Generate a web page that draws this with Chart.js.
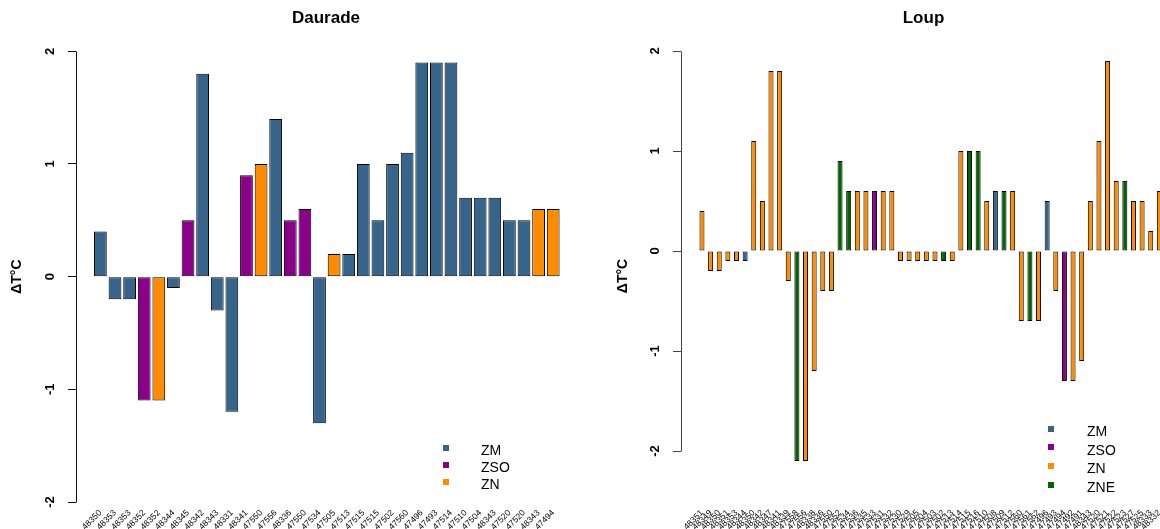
<!DOCTYPE html>
<html><head><meta charset="utf-8">
<script src="https://cdn.jsdelivr.net/npm/chart.js@4.4.1/dist/chart.umd.min.js"></script>
<style>
html,body{margin:0;padding:0;width:1160px;height:529px;overflow:hidden;background:#fff;font-family:'Liberation Sans',Arial,sans-serif;}
#wl{position:absolute;left:0;top:0;width:580px;height:529px;}
#wr{position:absolute;left:600px;top:0;width:570px;height:529px;}
.lt{position:absolute;font-size:14px;line-height:14px;color:#000;white-space:nowrap;}
.sq{position:absolute;width:6px;height:6px;}
</style></head><body>
<div id="wl"><canvas id="cl" width="580" height="529"></canvas></div>
<div id="wr"><canvas id="cr" width="570" height="529"></canvas></div>
<div id="legends"></div>
<script>
// ---- data ----
const zoneColors = { ZM: '#36648B', ZSO: '#8B008B', ZN: '#FF8C00', ZNE: '#006400' };
const yTicks = [-2, -1, 0, 1, 2];

const leftTitle = 'Daurade';
const leftLabels = ['48350','48353','48353','48352','48352','48344','48345','48342','48343','48331','48341','47550','47556','48336','47550','47534','47505','47513','47515','47515','47502','47560','47496','47493','47514','47510','47504','48343','47520','47520','48343','47494'];
const leftValues = [0.4,-0.2,-0.2,-1.1,-1.1,-0.1,0.5,1.8,-0.3,-1.2,0.9,1.0,1.4,0.5,0.6,-1.3,0.2,0.2,1.0,0.5,1.0,1.1,1.9,1.9,1.9,0.7,0.7,0.7,0.5,0.5,0.6,0.6];
const leftZones = ['ZM','ZM','ZM','ZSO','ZN','ZM','ZSO','ZM','ZM','ZM','ZSO','ZN','ZM','ZSO','ZSO','ZM','ZN','ZM','ZM','ZM','ZM','ZM','ZM','ZM','ZM','ZM','ZM','ZM','ZM','ZM','ZN','ZN'];
const leftLegend = ['ZM','ZSO','ZN'];

const rightTitle = 'Loup';
const rightLabels = ['48351','48349','48350','48351','48353','48344','48350','48342','48347','48341','48339','47558','47556','48338','48336','47550','47552','47534','47536','47535','47533','47531','47532','47530','47529','47505','47504','47503','47502','47513','47514','47515','47516','47510','47508','47509','47512','47560','47561','47562','47496','47493','47494','47492','47491','48343','47520','47521','47522','47523','47527','47525','48333','48332'];
const rightValues = [0.4,-0.2,-0.2,-0.1,-0.1,-0.1,1.1,0.5,1.8,1.8,-0.3,-2.1,-2.1,-1.2,-0.4,-0.4,0.9,0.6,0.6,0.6,0.6,0.6,0.6,-0.1,-0.1,-0.1,-0.1,-0.1,-0.1,-0.1,1.0,1.0,1.0,0.5,0.6,0.6,0.6,-0.7,-0.7,-0.7,0.5,-0.4,-1.3,-1.3,-1.1,0.5,1.1,1.9,0.7,0.7,0.5,0.5,0.2,0.6];
const rightZones = ['ZN','ZN','ZN','ZN','ZN','ZM','ZN','ZN','ZN','ZN','ZN','ZNE','ZN','ZN','ZN','ZN','ZNE','ZNE','ZN','ZN','ZSO','ZN','ZN','ZN','ZN','ZN','ZN','ZN','ZNE','ZN','ZN','ZNE','ZNE','ZN','ZM','ZNE','ZN','ZN','ZNE','ZN','ZM','ZN','ZSO','ZN','ZN','ZN','ZN','ZN','ZN','ZNE','ZN','ZN','ZN','ZN'];
const rightLegend = ['ZM','ZSO','ZN','ZNE'];
const yTitle = 'ΔT°C';

Chart.defaults.font.family = "'Liberation Sans', Arial, sans-serif";
Chart.defaults.color = '#000';

const axisLine = {
  id: 'axisLine',
  afterDraw(chart, args, opts) {
    const ys = chart.scales.y, ctx = chart.ctx;
    const x = Math.round(chart.chartArea.left) + 0.5;
    ctx.save();
    ctx.strokeStyle = opts.color; ctx.lineWidth = 1;
    ctx.beginPath();
    ctx.moveTo(x, Math.round(ys.getPixelForValue(yTicks[yTicks.length-1])) + 0.5);
    ctx.lineTo(x, Math.round(ys.getPixelForValue(yTicks[0])) + 0.5);
    ctx.stroke();
    ctx.restore();
  }
};

function makeChart(id, cfg) {
  const data = cfg.values.map((v, i) => ({ x: i, y: v }));
  return new Chart(document.getElementById(id), {
    type: 'bar',
    data: { datasets: [{
      data,
      backgroundColor: cfg.zones.map(z => zoneColors[z]),
      borderColor: '#000',
      borderWidth: 1,
      borderSkipped: false,
      categoryPercentage: 1,
      barPercentage: cfg.barPct
    }]},
    plugins: [axisLine],
    options: {
      responsive: false,
      animation: false,
      events: [],
      layout: { padding: { left: 0, right: 4, top: 0, bottom: 0 } },
      plugins: {
        legend: { display: false },
        tooltip: { enabled: false },
        axisLine: { color: cfg.axisColor },
        title: {
          display: true, text: cfg.title, fullSize: false,
          font: { size: 17, weight: 'bold' }, color: '#000',
          padding: { top: 7.8, bottom: cfg.titleBottom }
        }
      },
      scales: {
        x: {
          type: 'linear', min: cfg.xmin, max: cfg.xmax, offset: false,
          afterBuildTicks: s => { s.ticks = cfg.labels.map((_, i) => ({ value: i })); },
          afterFit: s => { s.height = cfg.xHeight; },
          ticks: {
            autoSkip: false, minRotation: 45, maxRotation: 45, padding: cfg.xPad,
            font: { size: 8.5 }, color: '#000',
            callback: (v, i) => cfg.labels[i]
          },
          grid: { display: false }, border: { display: false }
        },
        y: {
          min: cfg.ymin, max: cfg.ymax,
          afterBuildTicks: s => { s.ticks = yTicks.map(v => ({ value: v })); },
          afterFit: s => { s.width = cfg.yWidth; },
          ticks: {
            minRotation: 90, maxRotation: 90, crossAlign: 'center', padding: 12.2,
            font: { size: 13, weight: 'bold' }, color: '#000',
            callback: v => String(v)
          },
          grid: { display: true, drawOnChartArea: false, drawTicks: true, tickLength: 8, color: cfg.axisColor, lineWidth: 1 },
          border: { display: false },
          title: {
            display: true, text: yTitle, font: { size: 14, weight: 'bold' }, color: '#000',
            padding: { top: cfg.yTitlePad, bottom: 0 }
          }
        }
      }
    }
  });
}

makeChart('cl', {
  title: leftTitle, labels: leftLabels, values: leftValues, zones: leftZones,
  barPct: 0.873, axisColor: '#111', titleBottom: 23.1,
  xmin: -1.67, xmax: 32.56, xHeight: 27, xPad: -2,
  ymin: -2, ymax: 2, yWidth: 76, yTitlePad: 9
});
makeChart('cr', {
  title: rightTitle, labels: rightLabels, values: rightValues, zones: rightZones,
  barPct: 0.58, axisColor: '#444', titleBottom: 22.8,
  xmin: -2.43, xmax: 53.77, xHeight: 28, xPad: -1,
  ymin: -2.5, ymax: 2, yWidth: 81, yTitlePad: 15.2
});

// legends (HTML text)
function legend(names, sqLeft, txtLeft, rows) {
  const host = document.getElementById('legends');
  names.forEach((n, i) => {
    const sq = document.createElement('div');
    sq.className = 'sq';
    sq.style.background = zoneColors[n];
    sq.style.left = (sqLeft - 3) + 'px';
    sq.style.top = (rows[i] - 3 - 2.5) + 'px';
    host.appendChild(sq);
    const t = document.createElement('div');
    t.className = 'lt';
    t.textContent = n;
    t.style.left = txtLeft + 'px';
    t.style.top = (rows[i] - 6.9) + 'px';
    host.appendChild(t);
  });
}
legend(leftLegend, 446, 481, [450, 467, 484]);
legend(rightLegend, 1051, 1087, [431, 449.5, 468, 487]);
</script>
</body></html>
